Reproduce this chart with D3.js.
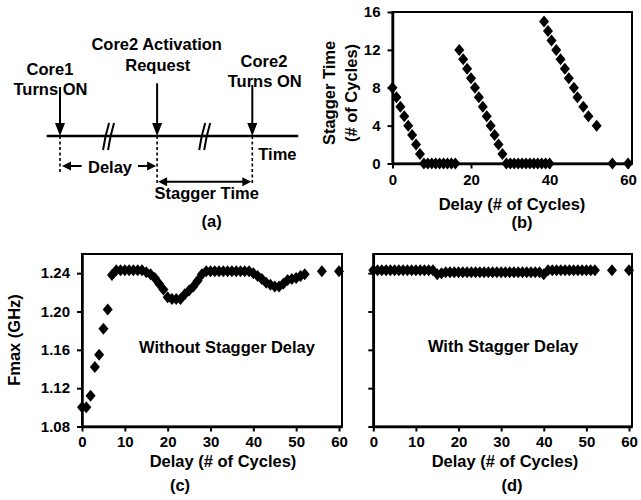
<!DOCTYPE html>
<html><head><meta charset="utf-8">
<script src="https://cdn.jsdelivr.net/npm/d3@7"></script>
<style>
body{margin:0;background:#fff}
svg{display:block}
text{font-family:"Liberation Sans",Arial,sans-serif;font-weight:bold;fill:#000}
</style>
</head><body>
<svg id="chart" width="641" height="500"></svg>
<script>
// ---------- DATA ----------
// Panel (b): Stagger time vs delay
const delayB = [0,1,2,3,4,5,6,7,8,9,10,11,12,13,14,15,16,17,18,19,20,21,22,23,24,25,26,27,28,29,30,31,32,33,34,35,36,37,38,39,40,
  38.6,39.6,40.5,41.7,42.8,43.9,44.9,46.2,47.1,48.6,49.9,52,56,60];
const staggerB = [8,7,6,5,4,3,2,1,0,0,0,0,0,0,0,0,0,12,11,10,9,8,7,6,5,4,3,2,1,0,0,0,0,0,0,0,0,0,0,0,0,
  15,14,13,12,11,10,9,8,7,6,5,4,0,0];
// Panel (c): Fmax without stagger delay
const delayC = [0,1,2,3,4,5,6,7,8,9,10,11,12,13,14,15,16,17,18,19,20,21,22,23,24,25,26,27,28,29,30,31,32,33,34,35,36,37,38,39,40,41,42,43,44,45,46,47,48,49,50,51,52,56,60];
const fmaxC = [1.100,1.100,1.112,1.142,1.155,1.182,1.202,1.238,1.243,1.243,
  1.243,1.243,1.243,1.243,1.243,1.241,1.239,1.235,1.229,1.223,
  1.215,1.213,1.213,1.213,1.218,1.222,1.226,1.232,1.239,1.242,
  1.242,1.242,1.242,1.242,1.242,1.242,1.242,1.242,1.242,1.242,
  1.240,1.237,1.234,1.230,1.228,1.226,1.226,1.229,1.233,1.234,
  1.235,1.237,1.239,1.242,1.242];
// Panel (d): Fmax with stagger delay
const delayD = delayC.slice();
const fmaxD = [1.243,1.243,1.243,1.243,1.243,1.243,1.243,1.243,1.243,1.243,1.243,1.243,1.243,1.243,1.243,
  1.239,1.240,
  1.241,1.241,1.241,1.241,1.241,1.241,1.241,1.241,1.241,1.241,1.241,1.241,1.241,1.241,1.241,1.241,1.241,1.241,1.241,1.241,1.241,1.241,1.241,
  1.239,
  1.243,1.243,1.243,1.243,1.243,1.243,1.243,1.243,1.243,1.243,1.243,1.243,
  1.243,1.243];
// Tick labels
const ticksB_x = [0,20,40,60];
const ticksB_y = [0,4,8,12,16];
const ticksCD_x = [0,10,20,30,40,50,60];
const ticksCD_y = [1.08,1.12,1.16,1.20,1.24];
// Panel (a) diagram events (relative time units)
const eventTimes = [0, 1.01, 2];
const eventLabels = [["Core1","Turns ON"],["Core2 Activation","Request"],["Core2","Turns ON"]];

// ---------- DRAW ----------
const svg = d3.select("#chart");
const diamond = "M0,-6L5,0L0,6L-5,0Z";

function panel(o){
  const g = svg.append("g");
  const [x0,x1] = o.x.range();
  const [y0,y1] = o.y.range();
  const pts = o.xs.map((v,i)=>[v,o.ys[i]]);
  g.selectAll("path.pt").data(pts).join("path").attr("class","pt")
    .attr("d",diamond).attr("fill","#000")
    .attr("transform",d=>`translate(${o.x(d[0])},${o.y(d[1])})`);
  g.append("rect").attr("x",x0).attr("y",y1).attr("width",x1-x0).attr("height",y0-y1)
    .attr("fill","none").attr("stroke","#000").attr("stroke-width",2);
  const ax = g.append("g").attr("transform",`translate(0,${y0})`)
    .call(d3.axisBottom(o.x).tickValues(o.xt).tickSize(5).tickPadding(o.xPad).tickSizeOuter(0));
  const ay = g.append("g").attr("transform",`translate(${x0},0)`)
    .call(d3.axisLeft(o.y).tickValues(o.yt).tickSize(5).tickPadding(7).tickSizeOuter(0)
      .tickFormat(o.yLabels ? o.yf : ()=>""));
  [ax,ay].forEach(a=>{
    a.attr("font-family",null).attr("font-size",null);
    a.select(".domain").attr("stroke","#000").attr("stroke-width",2.5);
    a.selectAll(".tick line").attr("stroke","#000").attr("stroke-width",2);
    a.selectAll(".tick text").style("font-size","15px").attr("fill","#000");
  });
  return g;
}

// Panel (b)
const xB = d3.scaleLinear().domain([0,61]).range([392.5,632]);
const yB = d3.scaleLinear().domain([0,16]).range([163.5,12]);
panel({x:xB,y:yB,xs:delayB,ys:staggerB,xt:ticksB_x,yt:ticksB_y,yLabels:true,yf:d3.format("d"),xPad:6});
// Panel (c)
const xC = d3.scaleLinear().domain([0,60.7]).range([82,342]);
const yC = d3.scaleLinear().domain([1.08,1.26]).range([426.5,254]);
panel({x:xC,y:yC,xs:delayC,ys:fmaxC,xt:ticksCD_x,yt:ticksCD_y,yLabels:true,yf:d3.format(".2f"),xPad:5});
// Panel (d)
const xD = d3.scaleLinear().domain([0,60.7]).range([373.3,632]);
const yD = d3.scaleLinear().domain([1.08,1.26]).range([426.5,254]);
panel({x:xD,y:yD,xs:delayD,ys:fmaxD,xt:ticksCD_x,yt:ticksCD_y,yLabels:false,xPad:5});

function txt(s,x,y,size,anchor,rot){
  const t = svg.append("text").text(s).style("font-size",size+"px")
    .attr("text-anchor",anchor||"middle");
  if(rot){ t.attr("transform",`translate(${x},${y}) rotate(${rot})`); }
  else { t.attr("x",x).attr("y",y); }
  return t;
}
// titles (b)
txt("Delay (# of Cycles)",512,210,16.5);
txt("(b)",522,228,16.5);
txt("Stagger Time",335,93,16.5,"middle",-90);
txt("(# of Cycles)",357,93,16.5,"middle",-90);
// titles (c)
txt("Delay (# of Cycles)",223,466.5,16.5);
txt("(c)",180,491,16.5);
txt("Fmax (GHz)",20,340,16.5,"middle",-90);
txt("Without Stagger Delay",227,353,16.5);
// titles (d)
txt("Delay (# of Cycles)",505,466.5,16.5);
txt("(d)",512,491,16.5);
txt("With Stagger Delay",503,352,16.5);

// ---------- Panel (a) diagram ----------
const ex = d3.scaleLinear().domain([0,2]).range([60,252.3]);
const lineY = 136;
const ga = svg.append("g").attr("stroke","#000");
// time line
ga.append("line").attr("x1",46.7).attr("x2",298.3).attr("y1",lineY).attr("y2",lineY).attr("stroke-width",2.5);
// break marks
[ (eventTimes[0]+eventTimes[1])/2, (eventTimes[1]+eventTimes[2])/2 ].forEach(t=>{
  const cx = ex(t);
  [-2.5,2.5].forEach(dx=>{
    ga.append("path").attr("fill","none").attr("stroke-width",2)
      .attr("d",`M${cx+dx-3},150 Q${cx+dx-1},136 ${cx+dx+3},123`);
  });
});
// event arrows
const arrowTop = [87,83.3,85];
eventTimes.forEach((t,i)=>{
  const x = ex(t);
  ga.append("line").attr("x1",x).attr("x2",x).attr("y1",arrowTop[i]).attr("y2",lineY-10).attr("stroke-width",2);
  ga.append("path").attr("stroke","none").attr("fill","#000")
    .attr("d",`M${x-5},${lineY-13}L${x+5},${lineY-13}L${x},${lineY}Z`);
});
// dashed drops
const dropEnd = [172,183.3,183.3];
eventTimes.forEach((t,i)=>{
  const x = ex(t);
  ga.append("line").attr("x1",x).attr("x2",x).attr("y1",lineY).attr("y2",dropEnd[i])
    .attr("stroke-width",1.6).attr("stroke-dasharray","3,2.5");
});
// Delay arrows
function head(x,y,dir){ // dir -1 left, +1 right
  ga.append("path").attr("stroke","none").attr("fill","#000")
    .attr("d",`M${x},${y}L${x-dir*9},${y-4.5}L${x-dir*9},${y+4.5}Z`);
}
const dY = 166;
ga.append("line").attr("x1",ex(0)+6).attr("x2",81.7).attr("y1",dY).attr("y2",dY).attr("stroke-width",2);
head(ex(0)+2,dY,-1);
ga.append("line").attr("x1",138).attr("x2",ex(eventTimes[1])-6).attr("y1",dY).attr("y2",dY).attr("stroke-width",2);
head(ex(eventTimes[1])-1,dY,1);
// stagger arrow
const sY = 181.7;
ga.append("line").attr("x1",ex(eventTimes[1])+6).attr("x2",ex(2)-6).attr("y1",sY).attr("y2",sY).attr("stroke-width",2);
head(ex(eventTimes[1])+1,sY,-1);
head(ex(2)-1,sY,1);
// diagram text
txt(eventLabels[0][0],50,75,16.5);
txt(eventLabels[0][1],50.5,95,16.5);
txt(eventLabels[1][0],156.7,50,16.5);
txt(eventLabels[1][1],157.8,71,16.5);
txt(eventLabels[2][0],264,67,16.5);
txt(eventLabels[2][1],264.7,86.7,16.5);
txt("Delay",110,173,16.5);
txt("Stagger Time",206.7,198.5,16.5);
txt("Time",258.3,160,16.5,"start");
txt("(a)",211.7,227,16.5);
</script>
</body></html>
